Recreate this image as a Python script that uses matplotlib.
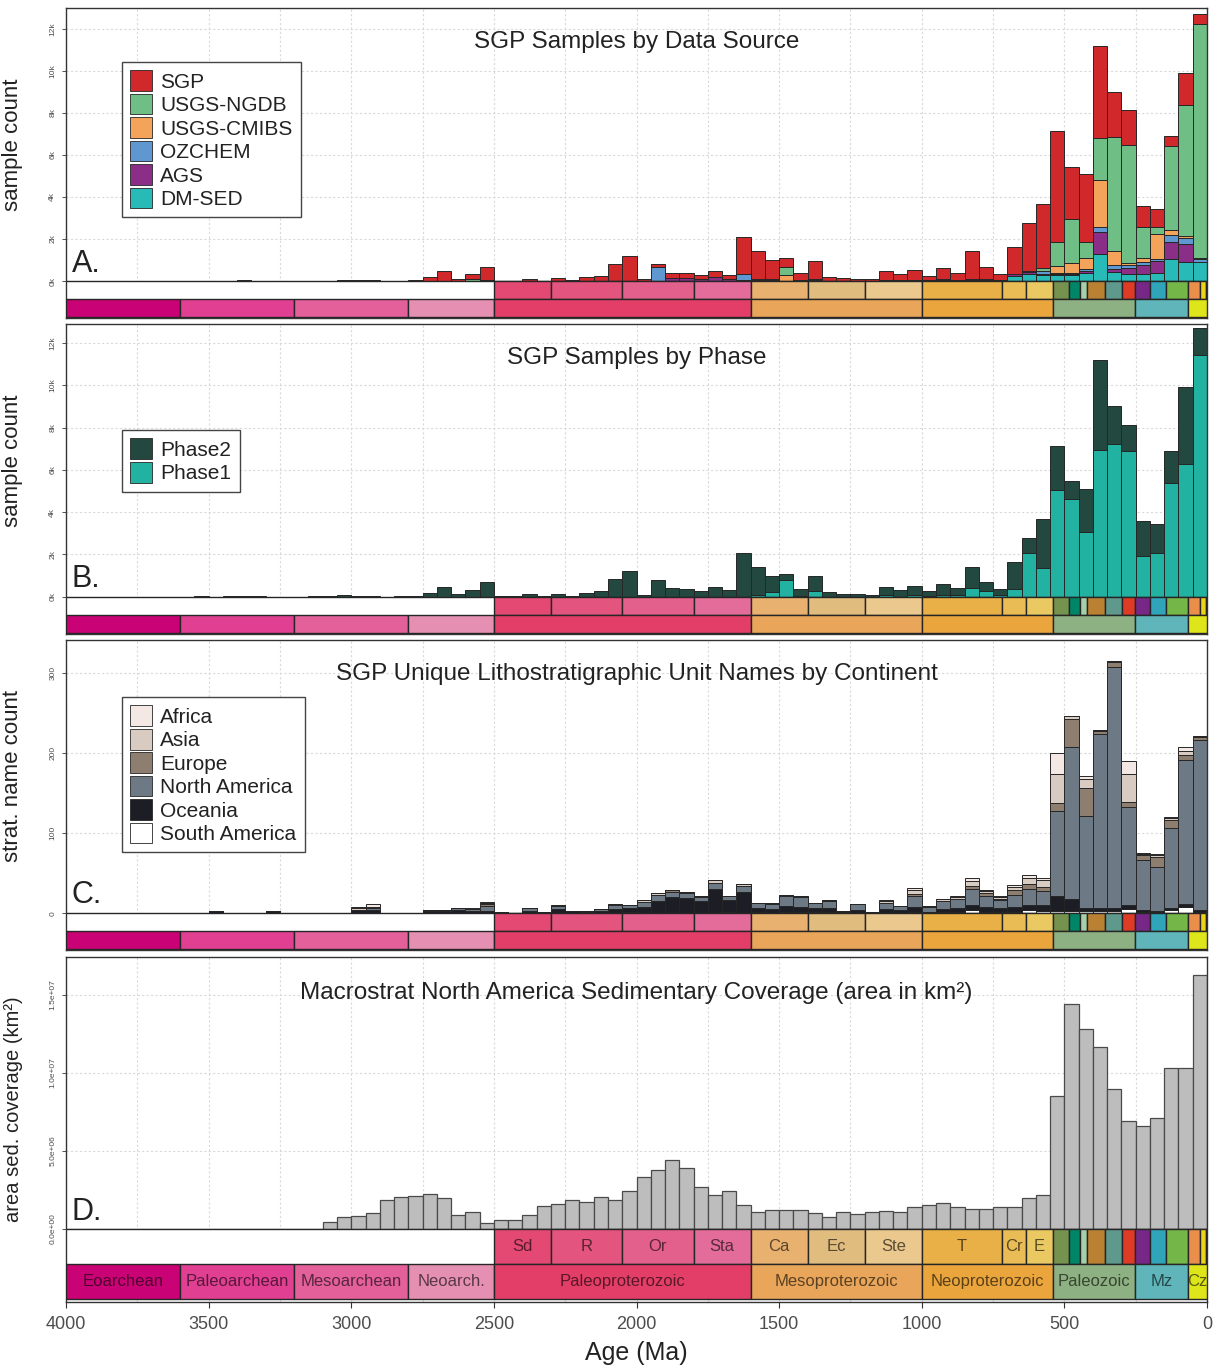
import matplotlib.pyplot as plt
import numpy as np
from matplotlib.patches import Rectangle, Patch
from matplotlib.colors import to_rgb
from matplotlib.ticker import MultipleLocator

plt.rcParams['font.family'] = ['Liberation Sans', 'DejaVu Sans']

# 50 Myr bins, oldest first; each row of ten values below covers 500 Myr
bin_old = np.arange(4000, 0, -50)
bin_mid = bin_old - 25.0

# --- A. samples by data source
sgp = [0, 0, 0, 0, 0, 0, 0, 0, 0, 10,
       0, 20, 30, 10, 0, 0, 0, 10, 20, 60,
       40, 30, 0, 20, 40, 190, 470, 120, 220, 650,
       20, 10, 110, 20, 150, 40, 190, 250, 810, 1210,
       80, 150, 250, 230, 180, 300, 200, 1750, 1330, 890,
       400, 330, 880, 190, 120, 90, 70, 420, 300, 450,
       220, 520, 330, 1300, 600, 300, 1300, 2300, 3070, 5300,
       2500, 3200, 4400, 2150, 1650, 1000, 870, 470, 1500, 470]
ngdb = [0] * 20 + \
       [0, 0, 0, 0, 0, 0, 0, 0, 120, 30,
        0, 0, 0, 0, 0, 0, 0, 0, 20, 0,
        0, 0, 0, 0, 0, 0, 0, 0, 50, 60,
        400, 20, 20, 0, 0, 0, 0, 10, 0, 20,
        0, 20, 20, 40, 20, 10, 0, 0, 100, 1150,
        2100, 800, 2000, 5400, 5600, 1500, 300, 4000, 6250, 11150]
cmibs = [0] * 40 + \
        [0, 0, 0, 0, 0, 0, 0, 0, 40, 40,
         280, 10, 20, 0, 0, 0, 0, 10, 0, 10,
         0, 10, 0, 20, 20, 0, 0, 0, 0, 300,
         450, 500, 2250, 700, 100, 150, 1200, 250, 100, 50]
ozchem = [0] * 40 + \
         [0, 650, 0, 0, 0, 0, 0, 300, 0, 0,
          0, 0, 0, 0, 0, 0, 0, 0, 0, 0,
          10, 20, 10, 20, 10, 10, 0, 50, 150, 50,
          50, 100, 200, 200, 150, 150, 100, 300, 300, 100]
ags = [0] * 40 + \
      [0, 0, 150, 150, 100, 180, 100, 30, 0, 0,
       0, 20, 40, 20, 20, 20, 20, 20, 30, 30,
       20, 30, 30, 40, 30, 30, 70, 60, 50, 50,
       50, 80, 1050, 100, 300, 450, 560, 800, 850, 30]
dmsed = [0] * 60 + \
        [0, 0, 0, 0, 0, 0, 250, 350, 300, 300,
         300, 400, 1300, 450, 330, 330, 400, 1070, 900, 900]

# --- B. samples by phase
phase1 = [0] * 40 + \
         [0, 0, 0, 0, 0, 0, 0, 0, 100, 200,
          800, 50, 250, 0, 0, 0, 0, 60, 0, 100,
          30, 100, 80, 400, 250, 60, 350, 2050, 1340, 5070,
          4610, 3070, 6930, 7200, 6880, 1920, 2090, 5355, 6270, 11420]
phase2 = [0, 0, 0, 0, 0, 0, 0, 0, 0, 10,
          0, 20, 30, 10, 0, 0, 0, 10, 20, 60,
          40, 30, 0, 20, 40, 190, 470, 120, 340, 680,
          20, 10, 110, 20, 150, 40, 190, 250, 830, 1210,
          80, 800, 400, 380, 280, 480, 300, 2080, 1320, 790,
          280, 330, 710, 210, 140, 110, 90, 400, 330, 410,
          220, 500, 310, 1020, 430, 290, 1270, 710, 2330, 2080,
          840, 2010, 4270, 1800, 1250, 1660, 1340, 1535, 3630, 1280]

# --- C. unique strat names by continent
africa = [0] * 20 + \
         [2, 3, 0, 0, 0, 0, 0, 0, 1, 1,
          0, 0, 0, 0, 0, 0, 0, 0, 0, 0,
          0, 0, 0, 0, 0, 0, 0, 0, 0, 0,
          0, 0, 0, 0, 0, 1, 0, 1, 0, 3,
          0, 0, 2, 4, 1, 1, 2, 4, 3, 26,
          0, 3, 0, 0, 16, 1, 1, 1, 5, 0]
asia = [0] * 20 + \
       [2, 2, 0, 0, 0, 0, 0, 0, 0, 2,
        0, 0, 0, 0, 1, 0, 0, 0, 2, 0,
        2, 2, 0, 2, 2, 3, 0, 3, 0, 1,
        2, 2, 0, 1, 0, 0, 0, 2, 0, 5,
        0, 3, 2, 6, 3, 2, 4, 8, 8, 37,
        3, 12, 2, 2, 35, 2, 3, 3, 5, 1]
europe = [0] * 20 + \
         [0, 0, 0, 0, 0, 0, 0, 0, 0, 2,
          0, 0, 0, 0, 0, 0, 0, 0, 0, 0,
          0, 0, 2, 0, 0, 0, 0, 0, 0, 0,
          0, 0, 0, 0, 0, 0, 0, 0, 0, 2,
          1, 0, 0, 4, 3, 2, 6, 6, 5, 10,
          35, 35, 3, 6, 6, 6, 12, 10, 6, 4]
n_america = [0] * 20 + \
            [0, 2, 0, 0, 0, 1, 1, 2, 2, 6,
             0, 0, 3, 0, 4, 0, 1, 2, 5, 4,
             6, 8, 7, 6, 5, 8, 5, 7, 7, 7,
             12, 12, 7, 9, 2, 7, 1, 8, 5, 14,
             6, 10, 12, 20, 14, 10, 15, 20, 18, 106,
             190, 115, 218, 300, 123, 62, 55, 100, 180, 212]
oceania = [0] * 10 + \
          [3, 0, 0, 0, 3, 0, 0, 0, 0, 0,
           4, 4, 0, 0, 0, 3, 3, 4, 3, 3,
           1, 0, 3, 2, 5, 3, 2, 3, 5, 5,
           8, 15, 20, 19, 15, 30, 15, 27, 5, 5,
           8, 7, 5, 5, 1, 4, 1, 5, 4, 6,
           2, 3, 4, 6, 6, 4, 6, 6, 7, 18,
           15, 3, 3, 4, 5, 2, 1, 2, 3, 3]
s_america = [0] * 30 + \
            [0, 0, 0, 0, 0, 0, 0, 0, 0, 1,
             0, 0, 0, 0, 0, 0, 2, 0, 1, 0,
             1, 1, 1, 1, 0, 0, 0, 0, 0, 2,
             0, 2, 2, 4, 2, 2, 2, 4, 3, 3,
             3, 3, 3, 3, 5, 2, 2, 4, 8, 1]

# --- D. Macrostrat North America sedimentary area (millions of km^2)
sed_area = [0.03, 0.02, 0.02, 0.03, 0.02, 0.02, 0.01, 0.0, 0.02, 0.0,
            0.0, 0.02, 0.0, 0.0, 0.0, 0.0, 0.0, 0.0, 0.43, 0.75,
            0.82, 1.03, 1.85, 2.04, 2.10, 2.25, 2.00, 0.92, 1.07, 0.39,
            0.60, 0.60, 0.88, 1.46, 1.60, 1.89, 1.72, 2.04, 1.89, 2.42,
            3.33, 3.78, 4.42, 3.93, 2.68, 2.21, 2.42, 1.57, 1.07, 1.24,
            1.24, 1.24, 1.03, 0.75, 1.07, 0.97, 1.07, 1.18, 1.07, 1.42,
            1.57, 1.67, 1.39, 1.29, 1.29, 1.42, 1.39, 2.00, 2.15, 8.52,
            14.4, 12.8, 11.65, 9.0, 6.9, 6.6, 7.12, 10.34, 10.3, 16.3]

# geologic time scale: (label, older bound, younger bound, colour)
eras = [("Eoarchean", 4000, 3600, "#DA037F"),
        ("Paleoarchean", 3600, 3200, "#F4449F"),
        ("Mesoarchean", 3200, 2800, "#F768A9"),
        ("Neoarch.", 2800, 2500, "#F99BC1"),
        ("Paleoproterozoic", 2500, 1600, "#F74370"),
        ("Mesoproterozoic", 1600, 1000, "#FDB462"),
        ("Neoproterozoic", 1000, 541, "#FEB342"),
        ("Paleozoic", 541, 251.9, "#99C08D"),
        ("Mz", 251.9, 66, "#67C5CA"),
        ("Cz", 66, 0, "#F2F91D")]
periods = [("Sd", 2500, 2300, "#F74F7C"),
           ("R", 2300, 2050, "#F75B89"),
           ("Or", 2050, 1800, "#F76898"),
           ("Sta", 1800, 1600, "#F875A7"),
           ("Ca", 1600, 1400, "#FDC07A"),
           ("Ec", 1400, 1200, "#F3CC8A"),
           ("Ste", 1200, 1000, "#FED99A"),
           ("T", 1000, 720, "#FEBF4E"),
           ("Cr", 720, 635, "#FECC5C"),
           ("E", 635, 541, "#FED96A"),
           ("", 541, 485.4, "#7FA056"),
           ("", 485.4, 443.8, "#009270"),
           ("", 443.8, 419.2, "#B3E1B6"),
           ("", 419.2, 358.9, "#CB8C37"),
           ("", 358.9, 298.9, "#67A599"),
           ("", 298.9, 251.9, "#F04028"),
           ("", 251.9, 201.3, "#812B92"),
           ("", 201.3, 145, "#34B2C9"),
           ("", 145, 66, "#7FC64E"),
           ("", 66, 23.03, "#FD9A52"),
           ("", 23.03, 2.58, "#FFE619"),
           ("", 2.58, 0, "#F9F97F")]

EDGE = '#262626'
TXT = '#222222'


def shade(col, f):
    return tuple(np.array(to_rgb(col)) * f)


def draw_timescale(ax, depth, labels=False):
    # two rows below zero: periods on top, eras underneath
    h = depth * 0.485
    ax.add_patch(Rectangle((2500, 0), 1500, -h, fc='white', ec='none', zorder=2))
    for rows, y0 in ((periods, 0), (eras, -h)):
        for name, old, young, col in rows:
            ax.add_patch(Rectangle((young, y0 - h), old - young, h, fc=shade(col, 0.92),
                                   ec=EDGE, lw=1.0, zorder=3))
            if labels and name:
                ax.text((old + young) / 2, y0 - h / 2, name, ha='center', va='center',
                        fontsize=12, color=shade(col, 0.36), zorder=4, clip_on=True)


def setup_panel(ax, ymax, depth, ticks, ticklabels, ylabel, title, tag,
                tag_y, title_y=0.89, bottom=False, ylabel_size=16):
    ax.set_xlim(4000, 0)
    ax.set_ylim(-depth, ymax)
    ax.set_axisbelow(True)
    ax.xaxis.set_major_locator(MultipleLocator(500))
    ax.xaxis.set_minor_locator(MultipleLocator(250))
    ax.grid(axis='x', which='both', color='#d9d9d9', lw=0.8, ls=(0, (2, 2)))
    ax.set_yticks(ticks)
    ax.set_yticklabels(ticklabels, rotation=90, va='center', fontsize=6, color='#4d4d4d')
    ax.grid(axis='y', which='major', color='#d9d9d9', lw=0.8, ls=(0, (2, 2)))
    ax.tick_params(axis='y', length=3, width=0.6, color='#333333', pad=4)
    if bottom:
        ax.tick_params(axis='x', which='major', length=4, width=0.8, color='#333333',
                       labelsize=13, labelcolor='#4d4d4d', pad=6)
        ax.tick_params(axis='x', which='minor', length=0)
        ax.set_xlabel("Age (Ma)", fontsize=18, color=TXT, labelpad=6)
    else:
        ax.tick_params(axis='x', which='both', length=0, labelbottom=False)
    ax.set_ylabel(ylabel, fontsize=ylabel_size, color=TXT)
    ax.yaxis.set_label_coords(-0.038, 0.56)
    for sp in ax.spines.values():
        sp.set_color('#333333')
        sp.set_linewidth(1.0)
    ax.axhline(0, color=EDGE, lw=1.0, zorder=2.5)
    ax.text(0.5, title_y, title, transform=ax.transAxes, ha='center', va='center',
            fontsize=17.5, color=TXT)
    ax.text(0.005, tag_y, tag, transform=ax.transAxes, ha='left', va='baseline',
            fontsize=22, color=TXT)


def stack(ax, series, colors):
    base = np.zeros(len(bin_mid))
    for vals, col in zip(series, colors):
        vals = np.asarray(vals, dtype=float)
        ax.bar(bin_mid, vals, width=50, bottom=base, color=col, edgecolor=EDGE,
               linewidth=0.7, zorder=2)
        base += vals


def legend(ax, labels, colors, top):
    handles = [Patch(fc=c, ec=EDGE, lw=0.6) for c in colors]
    lg = ax.legend(handles, labels, loc='upper left', bbox_to_anchor=(0.049, top),
                   borderaxespad=0, fontsize=15, handlelength=1.05, handleheight=1.15,
                   handletextpad=0.4, labelspacing=0.1, borderpad=0.4,
                   fancybox=False, framealpha=1, edgecolor='#444444')
    lg.get_frame().set_linewidth(1.0)
    for t in lg.get_texts():
        t.set_color(TXT)
    lg.set_zorder(6)


fig = plt.figure(figsize=(12.15, 13.68), dpi=100)
left, width = 66 / 1215, 1141 / 1215
axA = fig.add_axes([left, 1 - 318 / 1368, width, 310 / 1368])
axB = fig.add_axes([left, 1 - 634 / 1368, width, 310 / 1368])
axC = fig.add_axes([left, 1 - 950 / 1368, width, 310 / 1368])
axD = fig.add_axes([left, 1 - 1302 / 1368, width, 345 / 1368])

k_ticks = np.arange(0, 12001, 2000)
k_labels = [f"{int(v / 1000)}k" for v in k_ticks]

# A
src_names = ["SGP", "USGS-NGDB", "USGS-CMIBS", "OZCHEM", "AGS", "DM-SED"]
src_colors = ["#D1282B", "#6FBE86", "#F3A45A", "#5F98D0", "#8A2E88", "#28BAB6"]
stack(axA, [dmsed, ags, ozchem, cmibs, ngdb, sgp], src_colors[::-1])
setup_panel(axA, 13000, 1760, k_ticks, k_labels, "sample count",
            "SGP Samples by Data Source", "A.", 0.148)
draw_timescale(axA, 1760)
legend(axA, src_names, src_colors, 0.826)

# B
ph_names = ["Phase2", "Phase1"]
ph_colors = ["#234840", "#22B2A2"]
stack(axB, [phase1, phase2], ph_colors[::-1])
setup_panel(axB, 12900, 1765, k_ticks, k_labels, "sample count",
            "SGP Samples by Phase", "B.", 0.152)
draw_timescale(axB, 1765)
legend(axB, ph_names, ph_colors, 0.658)

# C
ct_names = ["Africa", "Asia", "Europe", "North America", "Oceania", "South America"]
ct_colors = ["#F3E8E4", "#D8CCC2", "#8E7E70", "#6D7A85", "#1D1D26", "#FFFFFF"]
stack(axC, [s_america, oceania, n_america, europe, asia, africa], ct_colors[::-1])
setup_panel(axC, 341, 46, [0, 100, 200, 300], ["0", "100", "200", "300"],
            "strat. name count",
            "SGP Unique Lithostratigraphic Unit Names by Continent", "C.", 0.152)
draw_timescale(axC, 46)
legend(axC, ct_names, ct_colors, 0.816)

# D
area = np.asarray(sed_area) * 1e6
axD.bar(bin_mid, area, width=50, color='#BDBDBD', edgecolor='#4a4a4a',
        linewidth=0.9, zorder=2)
setup_panel(axD, 1.744e7, 4.68e6, [0, 5e6, 1e7, 1.5e7],
            ["0.0e+00", "5.0e+06", "1.0e+07", "1.5e+07"],
            "area sed. coverage (km\u00b2)",
            "Macrostrat North America Sedimentary Coverage (area in km\u00b2)", "D.",
            0.238, title_y=0.896, bottom=True, ylabel_size=14.5)
axD.yaxis.set_label_coords(-0.038, 0.56)
draw_timescale(axD, 4.68e6 * 0.99, labels=True)

fig.savefig("out.png", dpi=100)
